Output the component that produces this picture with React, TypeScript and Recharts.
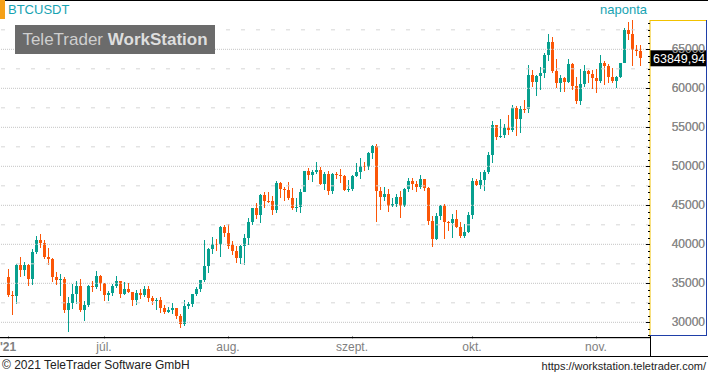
import { Bar, ComposedChart, ReferenceLine, XAxis, YAxis } from "recharts";

// BTCUSDT daily candles, 7 June – 12 Nov 2021
const opens = [
  35796, 33556, 33380, 37389, 36694, 37313, 35546, 39020, 40516, 40143, 38349, 38100, 35820, 35483, 35600, 31614, 32509, 33675, 34663, 31577, 32283, 34702, 34494, 35911,
  35045, 33502, 33786, 34669, 35288, 33690, 34220, 33863, 32875, 33815, 33503, 34259, 33086, 32729, 32820, 31874, 31384, 31520, 31778, 30839, 29790, 32144, 32287, 33634, 34261, 35381, 37237, 39457, 40020, 40018, 42206,
  41461, 39850, 39146, 38207, 39723, 40862, 42836, 44614, 43792, 46280, 45595, 45556, 44422, 47834, 47096, 47019, 45937, 44686, 44741, 46763, 49340, 48867, 49284, 49507, 47707, 48983, 46851, 49072, 48896, 48777, 46970,
  47100, 48811, 49246, 50000, 49918, 51757, 52667, 46863, 46048, 46396, 44851, 45173, 46026, 44949, 47103, 48121, 47738, 47300, 48315, 47261, 43012, 40693, 43573, 44895, 42840, 42721, 43208, 42236, 41034, 41564,
  43820, 48141, 47634, 48200, 49224, 51471, 55315, 53785, 53955, 54950, 54659, 57471, 56006, 57370, 57347, 61672, 60875, 61528, 62005, 64280, 66002, 62193, 60689, 61286, 60852, 63078, 60328, 58413, 60575, 62253, 61859,
  61300, 60911, 63254, 62897, 61396, 60940, 61471, 63274, 67526, 66947, 64883, 64774,
];
const highs = [
  36900, 34069, 37530, 38400, 37680, 37439, 39380, 41064, 41330, 40527, 39560, 38208, 36457, 36137, 35750, 33298, 34881, 35298, 35500, 32700, 34749, 35297, 36600, 36100,
  35057, 33977, 34945, 35967, 35293, 35118, 35059, 33928, 34100, 34262, 34666, 34679, 33340, 33114, 33185, 32249, 31949, 32435, 31899, 31063, 32858, 32591, 33650, 34500, 35398, 40550, 39542, 40900, 40640, 42316, 42448,
  42599, 40459, 39780, 39969, 41350, 43392, 44700, 45310, 46454, 46700, 46743, 46218, 48144, 48000, 47372, 48053, 47160, 46000, 47033, 49382, 49757, 49500, 50500, 49862, 49250, 49369, 49198, 49311, 49640, 48930, 48242,
  48933, 50392, 51033, 50558, 51900, 52780, 52920, 47360, 47400, 47033, 45989, 46460, 46876, 47250, 48500, 48557, 48170, 48843, 48372, 47328, 43639, 44000, 44978, 45200, 42967, 43950, 44350, 42800, 42590, 44141,
  48495, 48336, 49228, 49536, 51886, 55750, 55332, 56100, 55489, 56561, 57839, 57680, 57700, 58532, 62933, 62378, 61718, 62695, 64486, 67000, 66639, 63732, 61747, 61500, 63710, 63293, 61496, 62499, 62980, 62359, 62405,
  62437, 64270, 63500, 63086, 62595, 61560, 63286, 67789, 68524, 69000, 65600, 65500,
];
const lows = [
  33300, 31000, 32396, 35782, 35936, 34600, 34757, 38730, 39506, 38116, 37365, 35129, 34803, 33336, 31251, 28805, 31683, 32286, 31275, 30151, 32000, 33862, 34225, 34017,
  32711, 32699, 33316, 34357, 33125, 33532, 33777, 32078, 32261, 33004, 33307, 32658, 32202, 31550, 31133, 31020, 31179, 31108, 30407, 29278, 29482, 31708, 31925, 33401, 33851, 35205, 36383, 38772, 39200, 38313, 41000,
  39422, 38690, 37642, 37508, 37332, 39853, 42446, 43261, 42779, 44718, 45341, 43770, 44056, 46000, 45525, 45660, 44376, 44203, 43956, 46700, 48273, 48000, 49035, 47600, 46985, 46300, 46400, 48347, 47800, 46855, 46700,
  46858, 48638, 48360, 49400, 49500, 50969, 42843, 44412, 45513, 44132, 44730, 44742, 43370, 44750, 46682, 47021, 46750, 47045, 46829, 42500, 39600, 40565, 43063, 40675, 41646, 40750, 42098, 40829, 40754, 41410,
  43283, 47430, 47088, 46891, 49022, 50382, 53357, 53617, 53661, 54080, 54415, 53879, 54300, 56818, 56850, 60150, 58963, 59844, 61322, 63481, 62000, 60000, 59562, 59510, 60650, 59817, 58000, 57820, 60175, 60673, 59945,
  59405, 60624, 60382, 60677, 60721, 60050, 61322, 63273, 66222, 62822, 64100, 62900,
];
const closes = [
  33552, 33380, 37389, 36693, 37313, 35546, 39020, 40516, 40144, 38349, 38092, 35820, 35483, 35600, 31608, 32509, 33678, 34663, 31584, 32283, 34700, 34494, 35911, 35045,
  33504, 33786, 34669, 35287, 33690, 34220, 33863, 32875, 33815, 33502, 34259, 33086, 32729, 32820, 31880, 31383, 31520, 31778, 30839, 29790, 32144, 32287, 33634, 34258, 35381, 37237, 39457, 40020, 40016, 42206, 41461,
  39845, 39147, 38207, 39723, 40862, 42836, 44614, 43792, 46280, 45595, 45556, 44428, 47834, 47097, 47019, 45936, 44686, 44741, 46763, 49340, 48867, 49284, 49507, 47707, 48983, 46851, 49070, 48896, 48777, 46970, 47100,
  48811, 49246, 49999, 49915, 51757, 52663, 46863, 46048, 46395, 44850, 45173, 46025, 44941, 47111, 48122, 47738, 47300, 48314, 47261, 43013, 40693, 43575, 44896, 42840, 42716, 43208, 42236, 41034, 41564, 43790,
  48141, 47634, 48200, 49224, 51471, 55315, 53785, 53951, 54949, 54659, 57471, 56005, 57367, 57347, 61672, 60875, 61528, 62009, 64280, 66001, 62193, 60688, 61286, 60852, 63078, 60328, 58413, 60575, 62253, 61859, 61300,
  60911, 63219, 62896, 61395, 60937, 61470, 63273, 67526, 66947, 64882, 64774, 63850,
];
const lastPrice = 63849.94;

// first candle of each month (index into the arrays) and its label
const monthTicks = [0, 24, 55, 86, 116, 147];
const monthLabels = ["'21", "júl.", "aug.", "szept.", "okt.", "nov."];
const priceTicks = [30000, 35000, 40000, 45000, 50000, 55000, 60000, 65000];
const halfTicks = [32500, 37500, 42500, 47500, 52500, 57500, 62500, 67500];

const UP = "#07a08f";
const DOWN = "#fb5607";
const TEAL = "#17a3b2";
const FONT = "'Liberation Sans', Arial, sans-serif";
const yDomain: [number, number] = [27990, 68760];

const data = opens.map((open, i) => ({ i, open, high: highs[i], low: lows[i], close: closes[i] }));

const minorTicks: number[] = [];
for (let k = -2; k < 48; k++) {
  const v = 30000 + (k * 5000) / 6;
  if (v > yDomain[0] && v < yDomain[1]) minorTicks.push(v);
}

function Candle(props: any) {
  const { x, y, width, height, payload } = props;
  if (x == null || y == null || !payload) return null;
  const { open, high, low, close } = payload;
  const k = high === low ? 0 : height / (high - low);
  const top = Math.round(y + (high - Math.max(open, close)) * k);
  const bot = Math.round(y + (high - Math.min(open, close)) * k);
  const cx = Math.floor(x + width / 2);
  const color = close >= open ? UP : DOWN;
  return (
    <g shapeRendering="crispEdges">
      <rect x={cx} y={y} width={1} height={Math.max(1, height)} fill={color} />
      <rect x={cx - 1} y={top} width={3} height={Math.max(1, bot - top)} fill={color} />
    </g>
  );
}

function RightTick(props: any) {
  const { x, y, payload } = props;
  const v = payload.value;
  const major = priceTicks.includes(v);
  return (
    <g>
      <line x1={x - (major ? 4 : 2)} x2={x} y1={Math.round(y) + 0.5} y2={Math.round(y) + 0.5} stroke="#000" />
      {major && (
        <text x={x + 55} y={y} dy={4} textAnchor="end" fill="#8a8a8a" fontSize={12} fontFamily={FONT}>
          {v}
        </text>
      )}
    </g>
  );
}

function LeftTick(props: any) {
  const { x, y } = props;
  return <line x1={x} x2={x + 3} y1={Math.round(y) + 0.5} y2={Math.round(y) + 0.5} stroke="#000" />;
}

function MonthTick(props: any) {
  const { x, y, payload } = props;
  const idx = monthTicks.indexOf(payload.value);
  return (
    <g>
      <line x1={x + 0.5} x2={x + 0.5} y1={y - 2} y2={y + 1} stroke="#999" />
      <text x={x} y={y + 13} textAnchor="middle" fill="#808080" fontSize={12} fontFamily={FONT}
        fontWeight={idx === 0 ? "bold" : "normal"}>
        {monthLabels[idx]}
      </text>
    </g>
  );
}

function PriceTag(props: any) {
  const { viewBox } = props;
  const right = viewBox.x + viewBox.width;
  const y = viewBox.y;
  return (
    <g>
      <rect x={right} y={y - 8} width={56} height={16} fill="#000" />
      <text x={right + 3} y={y + 5} fill="#fff" fontSize={12.5} fontFamily={FONT}>
        {lastPrice.toFixed(2).replace(".", ",")}
      </text>
    </g>
  );
}

const line = (s: React.CSSProperties): React.CSSProperties => ({ position: "absolute", ...s });

export default function App() {
  return (
    <div style={{ position: "fixed", left: 0, top: 0, width: 708, height: 374, background: "#fff", overflow: "hidden", fontFamily: FONT }}>
      <div style={{ position: "absolute", left: 0, top: 0 }}>
        <ComposedChart width={708} height={356} data={data} margin={{ top: 20, right: 0, bottom: 0, left: 0 }} barCategoryGap={0}>
          {priceTicks.map((v) => (
            <ReferenceLine key={v} yAxisId="r" y={v} stroke="#c4c4c4" strokeDasharray="1 1" />
          ))}
          {halfTicks.map((v) => (
            <ReferenceLine key={v} yAxisId="r" y={v} stroke="#d6d6d6" strokeDasharray="4 11" />
          ))}
          <XAxis dataKey="i" ticks={monthTicks} interval={0} height={18} padding={{ left: 6, right: 8 }}
            axisLine={{ stroke: "#999" }} tickLine={false} tickSize={0} tickMargin={0} tick={<MonthTick />} />
          <YAxis yAxisId="l" orientation="left" width={0} mirror domain={yDomain} allowDataOverflow
            ticks={minorTicks} interval={0} axisLine={{ stroke: "#000" }} tickLine={false} tickSize={0} tickMargin={0} tick={<LeftTick />} />
          <YAxis yAxisId="r" orientation="right" width={58} domain={yDomain} allowDataOverflow
            ticks={[...minorTicks, ...priceTicks]} interval={0} axisLine={{ stroke: "#f2c200" }} tickLine={false}
            tickSize={0} tickMargin={0} tick={<RightTick />} />
          <Bar yAxisId="r" dataKey={(d: any) => [d.low, d.high]} shape={<Candle />} isAnimationActive={false} />
          <ReferenceLine yAxisId="r" y={lastPrice} stroke="none" label={<PriceTag />} />
        </ComposedChart>
      </div>

      {/* frame */}
      <div style={line({ left: 0, top: 0, width: 708, height: 1, background: "#000" })} />
      <div style={line({ left: 0, top: 0, width: 5, height: 19, background: "#f5a018" })} />
      <div style={line({ left: 650, top: 20, width: 57, height: 1, background: "#f2c200" })} />
      <div style={line({ left: 706, top: 20, width: 1, height: 316, background: "#1f3fa8" })} />
      <div style={line({ left: 650, top: 335, width: 57, height: 1, background: "#1f3fa8" })} />
      <div style={line({ left: 0, top: 337, width: 650, height: 1, background: "#000" })} />
      <div style={line({ left: 650, top: 336, width: 1, height: 20, background: "#000" })} />
      <div style={line({ left: 0, top: 356, width: 708, height: 1, background: "#000" })} />

      {/* header */}
      <div style={line({ left: 8, top: 2, fontSize: 13, color: TEAL, lineHeight: "16px" })}>BTCUSDT</div>
      <div style={line({ left: 600, top: 2, fontSize: 13, color: TEAL, lineHeight: "16px" })}>naponta</div>
      <div style={line({ left: 15, top: 25, width: 200, height: 29, background: "#6b6b6b", color: "#cfcfcf",
        fontSize: 17, lineHeight: "29px", textAlign: "center", whiteSpace: "nowrap" })}>
        TeleTrader <b style={{ color: "#dedede" }}>WorkStation</b>
      </div>

      {/* footer */}
      <div style={line({ left: 2, top: 358, fontSize: 12, color: "#222", lineHeight: "15px" })}>© 2021 TeleTrader Software GmbH</div>
      <div style={line({ right: 2, top: 359, fontSize: 11, color: "#222", lineHeight: "14px" })}>https://workstation.teletrader.com/</div>
    </div>
  );
}
